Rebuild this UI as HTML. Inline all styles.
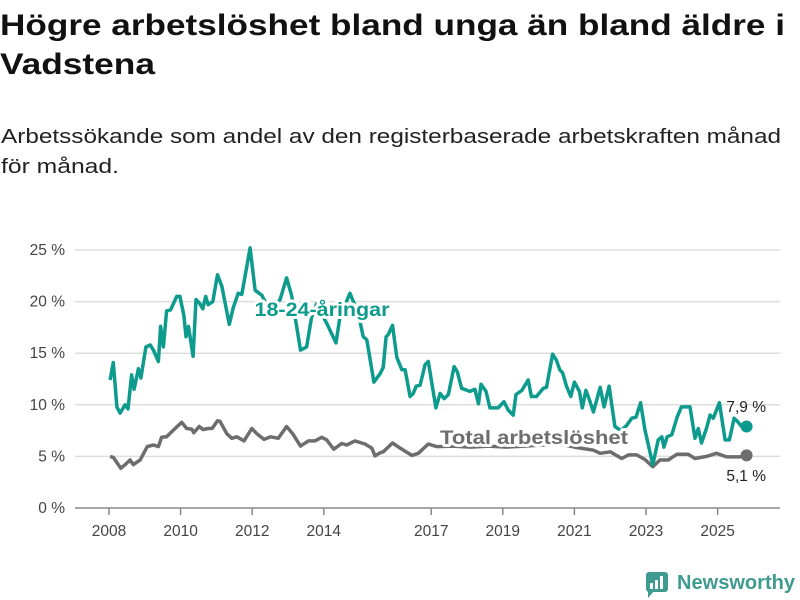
<!DOCTYPE html>
<html><head><meta charset="utf-8"><style>
html,body{margin:0;padding:0;background:#fff;width:800px;height:600px;overflow:hidden}
svg{display:block;font-family:"Liberation Sans",sans-serif}
</style></head><body>
<svg id="chart" width="800" height="600" viewBox="0 0 800 600">
<text font-size="30" font-weight="bold" fill="#111">
<tspan x="0" y="35" textLength="785" lengthAdjust="spacingAndGlyphs">Högre arbetslöshet bland unga än bland äldre i</tspan>
<tspan x="0" y="74" textLength="155" lengthAdjust="spacingAndGlyphs">Vadstena</tspan></text>
<text font-size="20" fill="#222">
<tspan x="1" y="143" textLength="780" lengthAdjust="spacingAndGlyphs">Arbetssökande som andel av den registerbaserade arbetskraften månad</tspan>
<tspan x="1" y="173" textLength="118" lengthAdjust="spacingAndGlyphs">för månad.</tspan></text>
<g id="grid"></g><g id="axes"></g><g id="series"></g><g id="labels"></g>
<g>
<rect x="646" y="572" width="22" height="20" rx="3" fill="#3f9a90"/>
<polygon points="648,590 648,598 655,590" fill="#3f9a90"/>
<rect x="650" y="583" width="3" height="6" fill="#fff"/><rect x="655" y="580" width="3" height="9" fill="#fff"/><rect x="660" y="576" width="3" height="13" fill="#fff"/>
<text x="677" y="589" font-size="20" font-weight="bold" fill="#3f9a90" textLength="118" lengthAdjust="spacingAndGlyphs">Newsworthy</text>
</g>
</svg>
<script>
const yTicks=[0,5,10,15,20,25];
const xTickYears=[2008,2010,2012,2014,2017,2019,2021,2023,2025];
const youthT=[2008.03,2008.12,2008.22,2008.31,2008.45,2008.53,2008.63,2008.70,2008.82,2008.89,2009.03,2009.15,2009.24,2009.38,2009.44,2009.52,2009.61,2009.72,2009.89,2009.98,2010.09,2010.15,2010.22,2010.35,2010.43,2010.54,2010.62,2010.70,2010.77,2010.90,2011.03,2011.15,2011.36,2011.47,2011.61,2011.71,2011.94,2012.08,2012.27,2012.50,2012.78,2012.96,2013.10,2013.35,2013.52,2013.66,2013.80,2014.08,2014.34,2014.45,2014.73,2014.96,2015.10,2015.20,2015.40,2015.57,2015.66,2015.74,2015.80,2015.92,2016.04,2016.18,2016.27,2016.41,2016.50,2016.58,2016.69,2016.83,2016.92,2017.13,2017.25,2017.36,2017.48,2017.64,2017.73,2017.85,2018.08,2018.22,2018.32,2018.39,2018.53,2018.64,2018.87,2019.03,2019.15,2019.29,2019.37,2019.53,2019.71,2019.80,2019.94,2020.13,2020.22,2020.39,2020.50,2020.59,2020.67,2020.78,2020.90,2021.00,2021.14,2021.22,2021.32,2021.42,2021.53,2021.72,2021.83,2021.97,2022.13,2022.30,2022.46,2022.60,2022.72,2022.85,2022.97,2023.19,2023.34,2023.44,2023.50,2023.59,2023.72,2023.87,2023.99,2024.23,2024.37,2024.46,2024.55,2024.68,2024.79,2024.88,2025.05,2025.21,2025.33,2025.46,2025.55,2025.67,2025.81];
const youthV=[12.4,14.1,9.8,9.2,10,9.6,12.9,11.5,13.5,12.6,15.6,15.8,15.3,14.2,17.6,15.6,19.1,19.2,20.5,20.5,18.7,16.6,17.6,14.7,20.2,19.8,19.3,20.5,19.7,20,22.6,21.5,17.8,19.4,20.8,20.7,25.2,21.1,20.6,19,20.2,22.3,20.6,15.3,15.6,18.5,19.8,17.9,16,18.5,20.8,18.9,16.6,16.3,12.2,13,13.6,16.6,16.8,17.7,14.6,13.4,13.4,10.8,11.1,11.8,11.9,13.9,14.2,9.7,11.1,10.6,11,13.7,13.2,11.6,11.3,11.5,10.1,12,11.3,9.7,9.7,10.3,9.5,9.0,11,11.4,12.4,10.8,10.8,11.6,11.7,14.9,14.3,13.4,13.1,11.8,10.8,12.2,11.3,9.7,11.4,10.5,9.3,11.7,9.8,11.8,7.9,7.5,8,8.7,8.8,10.2,7.6,4.2,6.6,6.9,5.9,6.9,7.1,8.8,9.8,9.8,6.75,7.7,6.3,7.6,9,8.7,10.2,6.6,6.6,8.7,8.4,7.9,7.9];
const totalT=[2008.03,2008.12,2008.33,2008.45,2008.59,2008.68,2008.87,2009.07,2009.24,2009.38,2009.47,2009.61,2009.80,2010.03,2010.17,2010.31,2010.37,2010.52,2010.63,2010.77,2010.88,2011.03,2011.10,2011.29,2011.43,2011.57,2011.77,2011.99,2012.13,2012.33,2012.52,2012.73,2012.96,2013.13,2013.35,2013.57,2013.75,2013.94,2014.08,2014.28,2014.50,2014.64,2014.87,2015.15,2015.34,2015.43,2015.57,2015.66,2015.92,2016.13,2016.46,2016.64,2016.92,2017.15,2017.6,2018.1,2018.6,2019.1,2019.6,2020.1,2020.6,2021.0,2021.53,2021.72,2022.00,2022.32,2022.51,2022.74,2022.97,2023.19,2023.39,2023.62,2023.86,2024.18,2024.37,2024.69,2024.97,2025.25,2025.62,2025.81];
const totalV=[5.0,4.9,3.85,4.2,4.65,4.2,4.65,5.95,6.1,5.95,6.85,6.9,7.55,8.3,7.7,7.65,7.3,7.9,7.6,7.7,7.7,8.45,8.4,7.2,6.75,6.9,6.5,7.7,7.2,6.65,6.9,6.75,7.9,7.2,6.0,6.5,6.5,6.85,6.6,5.7,6.25,6.1,6.5,6.2,5.8,5.05,5.35,5.45,6.3,5.8,5.1,5.3,6.2,5.95,6.0,5.9,6.0,5.9,6.0,6.1,6.2,5.9,5.6,5.3,5.45,4.8,5.15,5.15,4.7,4.0,4.65,4.65,5.2,5.2,4.8,5.0,5.3,4.95,4.95,5.1];
const NS='http://www.w3.org/2000/svg';
const X0=109,PXY=35.8,Y0=508,PXV=10.32;
const xs=t=>X0+(t-2008)*PXY, ys=v=>Y0-v*PXV;
function mk(tag,attrs,parent){const e=document.createElementNS(NS,tag);for(const k in attrs)e.setAttribute(k,attrs[k]);document.getElementById(parent).appendChild(e);return e;}
yTicks.forEach(v=>{
 const l=mk('line',{x1:75,x2:780,y1:ys(v),y2:ys(v),stroke:v===0?'#888':'#ddd','stroke-width':1.5},'grid');
 
 
 const t=mk('text',{x:65,y:ys(v)+5,'text-anchor':'end','font-size':15.5,fill:'#444'},'axes');
 t.textContent=v+' %';
 
 
});
xTickYears.forEach(y=>{
 const l=mk('line',{x1:xs(y),x2:xs(y),y1:Y0,y2:Y0+7,stroke:'#888','stroke-width':1.5},'axes');
 
 
 const t=mk('text',{x:xs(y),y:536,'text-anchor':'middle','font-size':15.5,fill:'#444'},'axes');
 t.textContent=y;
 
 
});
function line(T,V,color,name){
 const d=T.map((t,i)=>(i?'L':'M')+xs(t).toFixed(1)+','+ys(V[i]).toFixed(1)).join('');
 const p=mk('path',{d:d,fill:'none',stroke:color,'stroke-width':3.5,'stroke-linejoin':'round'},'series');
 
 
 const n=T.length-1;
 const c=mk('circle',{cx:xs(T[n]),cy:ys(V[n]),r:6,fill:color},'series');
 
 
}
line(totalT,totalV,'#6d6d6d','total');
line(youthT,youthV,'#0d9b8d','youth');
function lab(x,y,txt,color,size,bold,anchor,name,len){
 const a={x:x,y:y,'text-anchor':anchor,'font-size':size,'font-weight':bold?'bold':'normal',fill:color,stroke:'#fff','stroke-width':bold?6:0,'paint-order':'stroke','stroke-linejoin':'round'};
 if(len){a.textLength=len;a.lengthAdjust='spacingAndGlyphs';}
 const t=mk('text',a,'labels');
 t.textContent=txt;
 
 
}
lab(322,316,'18-24-åringar','#0d9b8d',19,true,'middle','youth-series-label',135);
lab(534,444,'Total arbetslöshet','#6d6d6d',19,true,'middle','total-series-label',188);
lab(766,412,'7,9 %','#222',15.5,false,'end','youth-end-value');
lab(766,481,'5,1 %','#222',15.5,false,'end','total-end-value');
</script>
</body></html>
